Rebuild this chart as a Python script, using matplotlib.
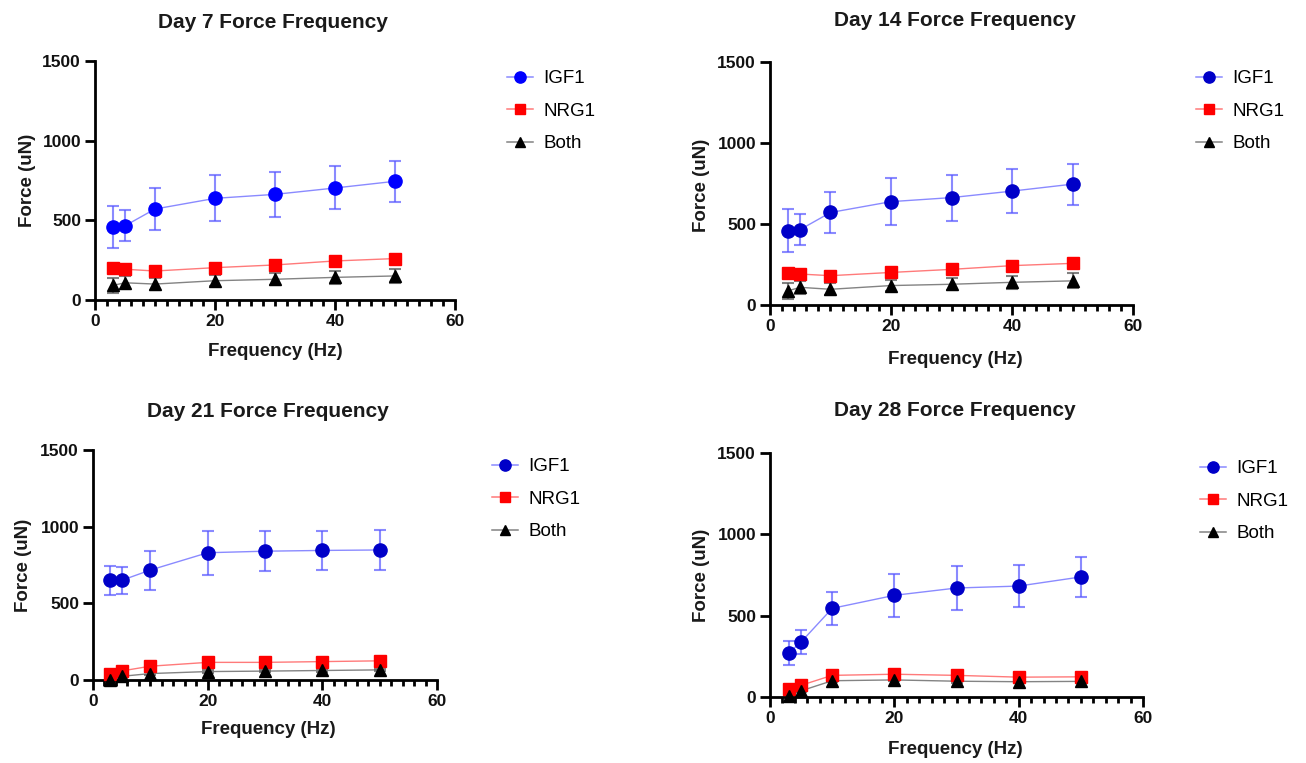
import matplotlib
matplotlib.use("Agg")
import matplotlib.pyplot as plt
from matplotlib.ticker import MultipleLocator

plt.rcParams['font.family'] = ['Liberation Sans', 'DejaVu Sans']

freq = [3, 5, 10, 20, 30, 40, 50]
series_names = ["IGF1", "NRG1", "Both"]

igf1_d7 = [457, 466, 571, 638, 663, 703, 745]
igf1_d7_sd = [133, 97, 129, 145, 142, 135, 127]
nrg1_d7 = [199, 193, 182, 203, 220, 245, 260]
nrg1_d7_sd = [14, 14, 14, 14, 14, 14, 14]
both_d7 = [92, 108, 100, 121, 130, 142, 151]
both_d7_sd = [48, 42, 37, 36, 37, 40, 46]

igf1_d14 = [459, 466, 571, 638, 663, 703, 746]
igf1_d14_sd = [133, 97, 129, 145, 142, 135, 127]
nrg1_d14 = [199, 191, 181, 201, 220, 243, 257]
nrg1_d14_sd = [14, 14, 14, 14, 14, 14, 14]
both_d14 = [88, 109, 97, 120, 128, 140, 149]
both_d14_sd = [48, 42, 37, 36, 37, 40, 46]

igf1_d21 = [650, 650, 717, 830, 840, 845, 848]
igf1_d21_sd = [93, 88, 127, 143, 131, 127, 128]
nrg1_d21 = [42, 59, 90, 115, 115, 120, 125]
nrg1_d21_sd = [14, 14, 14, 14, 14, 14, 14]
both_d21 = [3, 24, 42, 55, 58, 62, 66]
both_d21_sd = [8, 8, 8, 8, 8, 8, 8]

igf1_d28 = [270, 338, 545, 625, 670, 682, 738]
igf1_d28_sd = [73, 72, 101, 133, 133, 128, 121]
nrg1_d28 = [52, 72, 133, 140, 133, 122, 124]
nrg1_d28_sd = [15, 15, 25, 28, 22, 16, 16]
both_d28 = [8, 38, 100, 105, 97, 94, 96]
both_d28_sd = [8, 8, 8, 8, 8, 8, 8]

titles = ["Day 7 Force Frequency", "Day 14 Force Frequency",
          "Day 21 Force Frequency", "Day 28 Force Frequency"]

panels = [
    (igf1_d7, igf1_d7_sd, nrg1_d7, nrg1_d7_sd, both_d7, both_d7_sd),
    (igf1_d14, igf1_d14_sd, nrg1_d14, nrg1_d14_sd, both_d14, both_d14_sd),
    (igf1_d21, igf1_d21_sd, nrg1_d21, nrg1_d21_sd, both_d21, both_d21_sd),
    (igf1_d28, igf1_d28_sd, nrg1_d28, nrg1_d28_sd, both_d28, both_d28_sd),
]

W, H = 1306, 763
# axes boxes in pixels: left, right, top, bottom
boxes = [(95, 455, 61, 300), (770, 1133, 62, 305),
         (93, 437, 450, 680), (770, 1143, 453, 697)]
title_pos = [(273, 22), (955, 20), (268, 412), (955, 410)]
xlabel_pos = [(275, 352), (955, 360), (268, 730), (955, 750)]
ylabel_pos = [(27, 180), (702, 185), (24, 565), (702, 575)]
legend_pos = [(507, 70), (1196, 70), (492, 458), (1200, 460)]
blue_cols = ["#0000FF", "#0000C8", "#0000C8", "#0000C8"]

fig = plt.figure(figsize=(W / 100, H / 100), dpi=100)

for i, (data, box) in enumerate(zip(panels, boxes)):
    l, r, t, b = box
    ax = fig.add_axes([l / W, 1 - b / H, (r - l) / W, (b - t) / H])
    igf, igf_sd, nrg, nrg_sd, both, both_sd = data
    blue = blue_cols[i]
    specs = [
        (igf, igf_sd, blue, 'o', 9.5, (0.35, 0.35, 1.0, 0.7), (0.35, 0.35, 1.0, 0.7)),
        (nrg, nrg_sd, '#FF0000', 's', 9, (1.0, 0.3, 0.3, 0.75), (1.0, 0.4, 0.4, 0.7)),
        (both, both_sd, '#000000', '^', 9, (0.35, 0.35, 0.35, 0.75), (0.3, 0.3, 0.3, 0.7)),
    ]
    handles = []
    for (y, sd, col, mk, ms, lcol, ecol), name in zip(specs, series_names):
        ax.errorbar(freq, y, yerr=sd, fmt='none', ecolor=ecol, elinewidth=1.5,
                    capsize=4.5, capthick=1.5, zorder=2, clip_on=False)
        ax.plot(freq, y, '-', color=lcol, lw=1.0, zorder=3, clip_on=False)
        ax.plot(freq, y, mk, color=col, ms=ms, mec=col, zorder=4, clip_on=False)
        h, = ax.plot([], [], '-', color=lcol, lw=1.1, marker=mk, ms=ms * 0.85,
                     mfc=col, mec=col, label=name)
        handles.append(h)

    ax.set_xlim(0, 60)
    ax.set_ylim(0, 1500)
    ax.set_xticks([0, 20, 40, 60])
    ax.xaxis.set_minor_locator(MultipleLocator(2))
    ax.set_yticks([0, 500, 1000, 1500])
    for s in ['top', 'right']:
        ax.spines[s].set_visible(False)
    for s in ['left', 'bottom']:
        ax.spines[s].set_linewidth(2.0)
    ax.tick_params(axis='both', which='major', length=7, width=2.0,
                   labelsize=12.5, pad=3, labelcolor='#111111')
    ax.tick_params(axis='x', which='minor', length=4.5, width=2.0)
    for lab in ax.get_xticklabels() + ax.get_yticklabels():
        lab.set_fontweight('bold')
    ax.patch.set_alpha(0)

    tx, ty = title_pos[i]
    fig.text(tx / W, 1 - ty / H, titles[i], ha='center', va='center',
             fontsize=15, fontweight='bold', color='#1a1a1a')
    xx, xy = xlabel_pos[i]
    fig.text(xx / W, 1 - xy / H, "Frequency (Hz)", ha='center', va='center',
             fontsize=13.5, fontweight='bold', color='#1a1a1a')
    yx, yy = ylabel_pos[i]
    fig.text(yx / W, 1 - yy / H, "Force (uN)", ha='center', va='center',
             rotation=90, fontsize=13.5, fontweight='bold', color='#1a1a1a')
    lx, ly = legend_pos[i]
    fig.legend(handles=handles, loc='upper left',
               bbox_to_anchor=(lx / W, 1 - ly / H), frameon=False,
               fontsize=13.5, handlelength=1.4, handletextpad=0.55,
               labelspacing=0.82, borderpad=0, borderaxespad=0)

fig.savefig("out.png", dpi=100)
